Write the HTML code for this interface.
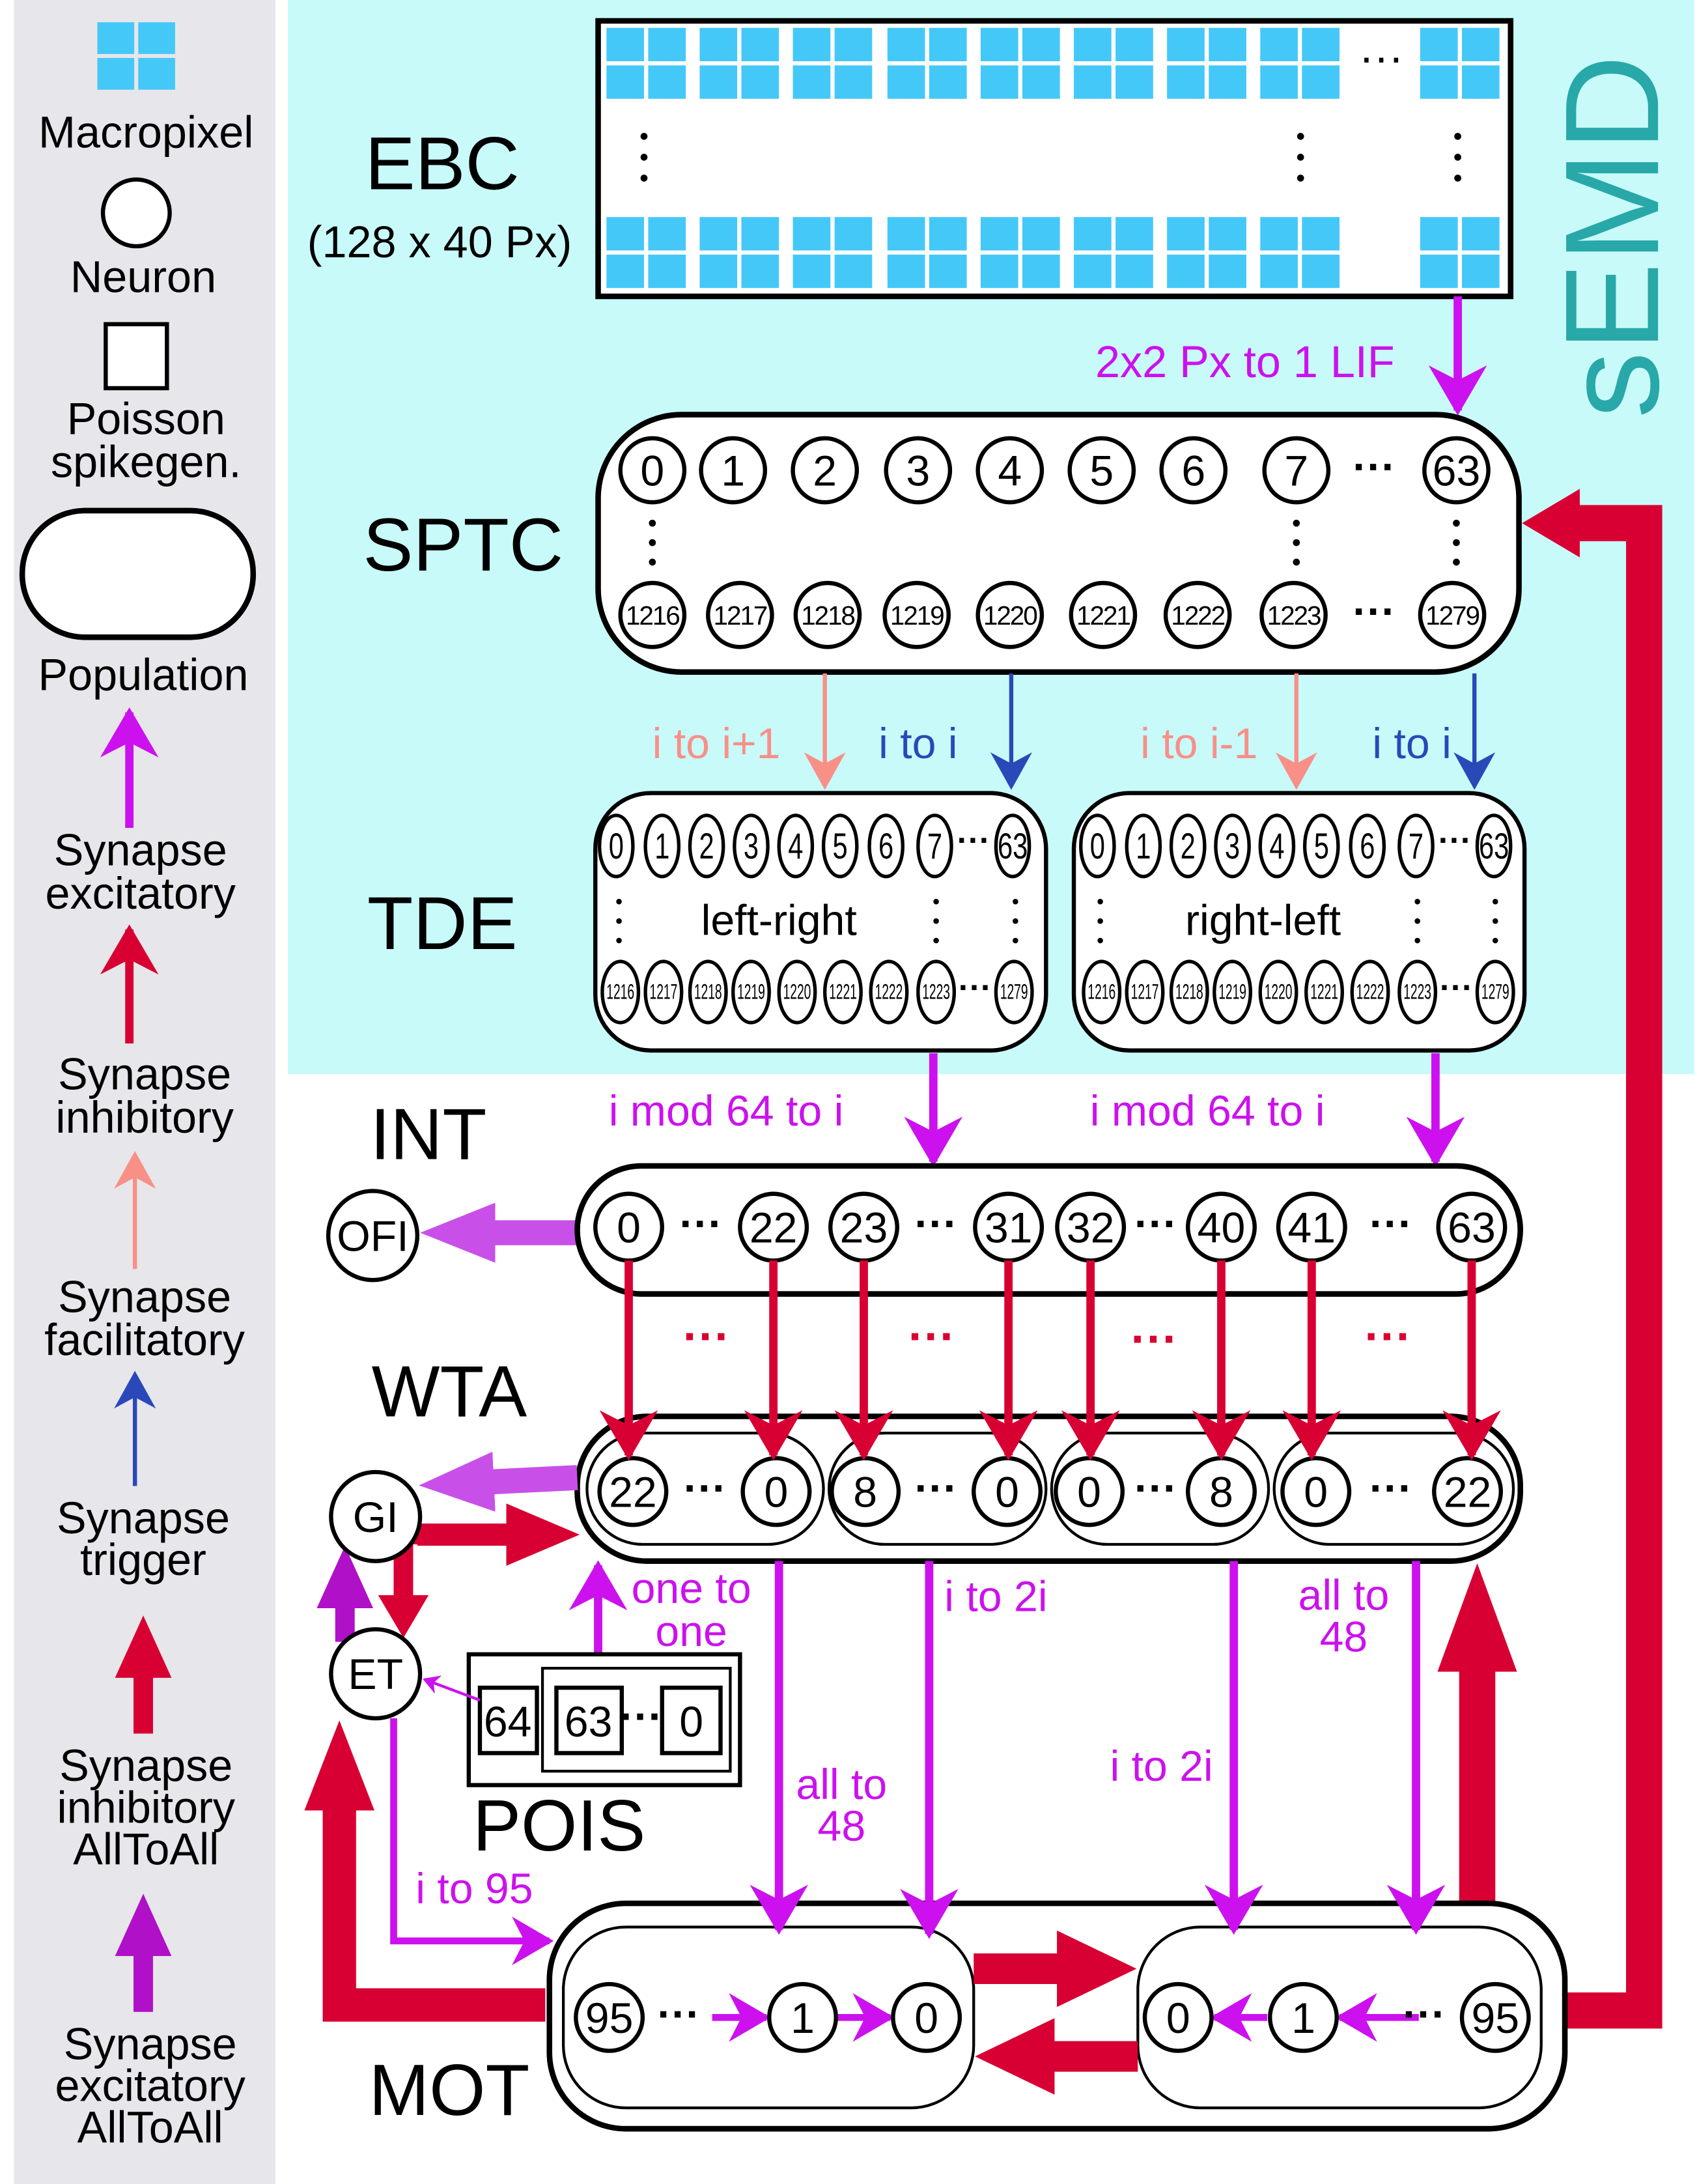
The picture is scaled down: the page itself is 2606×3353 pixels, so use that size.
<!DOCTYPE html>
<html><head><meta charset="utf-8"><style>
html,body{margin:0;padding:0;background:#fff}
svg{display:block}
text{font-family:"Liberation Sans",sans-serif;text-anchor:middle}
</style></head><body>
<svg width="2606" height="3353" viewBox="0 0 1220 1569.7" preserveAspectRatio="none" xmlns="http://www.w3.org/2000/svg">
<defs>
<marker id="mM" viewBox="0 0 10 10" preserveAspectRatio="none" refX="9" refY="5" markerWidth="6" markerHeight="7" orient="auto" markerUnits="strokeWidth"><path d="M0,0L10,5L0,10L3,5z" fill="#cc11ee"/></marker>
<marker id="mR" viewBox="0 0 10 10" preserveAspectRatio="none" refX="9" refY="5" markerWidth="6" markerHeight="7" orient="auto" markerUnits="strokeWidth"><path d="M0,0L10,5L0,10L3,5z" fill="#d80032"/></marker>
<marker id="mS" viewBox="0 0 10 10" preserveAspectRatio="none" refX="9" refY="5" markerWidth="9" markerHeight="10" orient="auto" markerUnits="strokeWidth"><path d="M0,0L10,5L0,10L3,5z" fill="#f89088"/></marker>
<marker id="mB" viewBox="0 0 10 10" preserveAspectRatio="none" refX="9" refY="5" markerWidth="9" markerHeight="10" orient="auto" markerUnits="strokeWidth"><path d="M0,0L10,5L0,10L3,5z" fill="#2a48b8"/></marker>
<marker id="mUp" viewBox="0 0 10 10" preserveAspectRatio="none" refX="0.2" refY="5" markerWidth="3" markerHeight="2.2" orient="auto" markerUnits="strokeWidth"><path d="M0,0L10,5L0,10z" fill="#d80032"/></marker>
<marker id="mRet" viewBox="0 0 10 10" preserveAspectRatio="none" refX="0.2" refY="5" markerWidth="1.6" markerHeight="1.9" orient="auto" markerUnits="strokeWidth"><path d="M0,0L10,5L0,10z" fill="#d80032"/></marker>
<marker id="mMOT" viewBox="0 0 10 10" preserveAspectRatio="none" refX="0.2" refY="5" markerWidth="2.6" markerHeight="2.5" orient="auto" markerUnits="strokeWidth"><path d="M0,0L10,5L0,10z" fill="#d80032"/></marker>
<marker id="mET" viewBox="0 0 10 10" preserveAspectRatio="none" refX="0.2" refY="5" markerWidth="2.7" markerHeight="2.1" orient="auto" markerUnits="strokeWidth"><path d="M0,0L10,5L0,10z" fill="#d80032"/></marker>
<marker id="mGI" viewBox="0 0 10 10" preserveAspectRatio="none" refX="0.2" refY="5" markerWidth="3.3" markerHeight="2.8" orient="auto" markerUnits="strokeWidth"><path d="M0,0L10,5L0,10z" fill="#d80032"/></marker>
<marker id="mGIET" viewBox="0 0 10 10" preserveAspectRatio="none" refX="0.2" refY="5" markerWidth="2.2" markerHeight="2.6" orient="auto" markerUnits="strokeWidth"><path d="M0,0L10,5L0,10z" fill="#d80032"/></marker>
<marker id="mLR" viewBox="0 0 10 10" preserveAspectRatio="none" refX="0.2" refY="5" markerWidth="3.2" markerHeight="2.9" orient="auto" markerUnits="strokeWidth"><path d="M0,0L10,5L0,10z" fill="#d80032"/></marker>
<marker id="mV" viewBox="0 0 10 10" preserveAspectRatio="none" refX="0.2" refY="5" markerWidth="3" markerHeight="2.4" orient="auto" markerUnits="strokeWidth"><path d="M0,0L10,5L0,10z" fill="#c850e8"/></marker>
<marker id="mP" viewBox="0 0 10 10" preserveAspectRatio="none" refX="0.2" refY="5" markerWidth="3.2" markerHeight="2.9" orient="auto" markerUnits="strokeWidth"><path d="M0,0L10,5L0,10z" fill="#b010c8"/></marker>
<g id="mp"><rect x="0" y="0" width="27" height="24" fill="#44c8f8"/><rect x="30" y="0" width="27" height="24" fill="#44c8f8"/><rect x="0" y="27" width="27" height="24" fill="#44c8f8"/><rect x="30" y="27" width="27" height="24" fill="#44c8f8"/></g>
</defs>

<rect x="10" y="0" width="188" height="1570" fill="#e7e6ea"/>
<rect x="207" y="0" width="1011" height="772" fill="#c8fafa"/>

<g transform="translate(70,16) scale(0.98,0.95)"><use href="#mp"/></g>
<text x="105" y="106" font-size="32">Macropixel</text>
<circle cx="98" cy="153" r="24" fill="#fff" stroke="#000" stroke-width="3"/>
<text x="103" y="210" font-size="32">Neuron</text>
<rect x="76" y="233" width="44" height="46" fill="#fff" stroke="#000" stroke-width="3"/>
<text x="105" y="312" font-size="32">Poisson</text>
<text x="105" y="343" font-size="32">spikegen.</text>
<rect x="16" y="367" width="166" height="91" rx="45" fill="#fff" stroke="#000" stroke-width="4"/>
<text x="103" y="496" font-size="32">Population</text>
<line x1="93" y1="595" x2="93" y2="512" stroke="#cc11ee" stroke-width="6" marker-end="url(#mM)"/>
<text x="101" y="622" font-size="32">Synapse</text><text x="101" y="653" font-size="32">excitatory</text>
<line x1="93" y1="750" x2="93" y2="668" stroke="#d80032" stroke-width="6" marker-end="url(#mR)"/>
<text x="104" y="783" font-size="32">Synapse</text><text x="104" y="814" font-size="32">inhibitory</text>
<line x1="97" y1="912" x2="97" y2="830" stroke="#f89088" stroke-width="3" marker-end="url(#mS)"/>
<text x="104" y="943" font-size="32">Synapse</text><text x="104" y="974" font-size="32">facilitatory</text>
<line x1="97" y1="1068" x2="97" y2="988" stroke="#2a48b8" stroke-width="3" marker-end="url(#mB)"/>
<text x="103" y="1102" font-size="32">Synapse</text><text x="103" y="1132" font-size="32">trigger</text>
<line x1="103" y1="1246" x2="103" y2="1205" stroke="#d80032" stroke-width="14" marker-end="url(#mLR)"/>
<text x="105" y="1280" font-size="32">Synapse</text><text x="105" y="1310" font-size="32">inhibitory</text><text x="105" y="1340" font-size="32">AllToAll</text>
<line x1="103" y1="1446" x2="103" y2="1405" stroke="#b010c8" stroke-width="14" marker-end="url(#mP)"/>
<text x="108" y="1480" font-size="32">Synapse</text><text x="108" y="1510" font-size="32">excitatory</text><text x="108" y="1540" font-size="32">AllToAll</text>

<!-- EBC -->
<text x="318" y="136" font-size="54">EBC</text>
<text x="316" y="185" font-size="32">(128 x 40 Px)</text>
<rect x="430" y="15" width="656" height="198" fill="#fff" stroke="#000" stroke-width="4"/>
<use href="#mp" x="436" y="20"/><use href="#mp" x="503" y="20"/><use href="#mp" x="570" y="20"/><use href="#mp" x="638" y="20"/><use href="#mp" x="705" y="20"/><use href="#mp" x="772" y="20"/><use href="#mp" x="839" y="20"/><use href="#mp" x="906" y="20"/><use href="#mp" x="1021" y="20"/>
<use href="#mp" x="436" y="156"/><use href="#mp" x="503" y="156"/><use href="#mp" x="570" y="156"/><use href="#mp" x="638" y="156"/><use href="#mp" x="705" y="156"/><use href="#mp" x="772" y="156"/><use href="#mp" x="839" y="156"/><use href="#mp" x="906" y="156"/><use href="#mp" x="1021" y="156"/>
<text x="993" y="52" font-size="32">···</text>
<g fill="#000"><circle cx="463" cy="98" r="2.5"/><circle cx="463" cy="113" r="2.5"/><circle cx="463" cy="128" r="2.5"/><circle cx="935" cy="98" r="2.5"/><circle cx="935" cy="113" r="2.5"/><circle cx="935" cy="128" r="2.5"/><circle cx="1048" cy="98" r="2.5"/><circle cx="1048" cy="113" r="2.5"/><circle cx="1048" cy="128" r="2.5"/></g>
<text transform="translate(1192,170) rotate(-90)" font-size="96" fill="#28a8a8">sEMD</text>
<line x1="1048" y1="213" x2="1048" y2="295" stroke="#cc11ee" stroke-width="6" marker-end="url(#mM)"/>
<text x="895" y="271" font-size="32" fill="#cc11ee">2x2 Px to 1 LIF</text>

<!-- SPTC -->
<text x="333" y="410" font-size="54">SPTC</text>
<rect x="430" y="298" width="662" height="185" rx="60" fill="#fff" stroke="#000" stroke-width="4"/>
<g fill="#fff" stroke="#000" stroke-width="3">
<circle cx="469" cy="338" r="23"/><circle cx="527" cy="338" r="23"/><circle cx="593" cy="338" r="23"/><circle cx="660" cy="338" r="23"/><circle cx="726" cy="338" r="23"/><circle cx="792" cy="338" r="23"/><circle cx="858" cy="338" r="23"/><circle cx="932" cy="338" r="23"/><circle cx="1047" cy="338" r="23"/>
<circle cx="469" cy="442" r="23"/><circle cx="532" cy="442" r="23"/><circle cx="595" cy="442" r="23"/><circle cx="659" cy="442" r="23"/><circle cx="726" cy="442" r="23"/><circle cx="793" cy="442" r="23"/><circle cx="861" cy="442" r="23"/><circle cx="930" cy="442" r="23"/><circle cx="1044" cy="442" r="23"/>
</g>
<g font-size="31"><text x="469" y="349">0</text><text x="527" y="349">1</text><text x="593" y="349">2</text><text x="660" y="349">3</text><text x="726" y="349">4</text><text x="792" y="349">5</text><text x="858" y="349">6</text><text x="932" y="349">7</text><text x="1047" y="349">63</text><text x="988" y="346" font-weight="bold">···</text></g>
<g font-size="19" letter-spacing="-1"><text x="469" y="449">1216</text><text x="532" y="449">1217</text><text x="595" y="449">1218</text><text x="659" y="449">1219</text><text x="726" y="449">1220</text><text x="793" y="449">1221</text><text x="861" y="449">1222</text><text x="930" y="449">1223</text><text x="1044" y="449">1279</text></g>
<text x="988" y="450" font-size="31" font-weight="bold">···</text>
<g fill="#000"><circle cx="469" cy="376" r="2.5"/><circle cx="469" cy="390" r="2.5"/><circle cx="469" cy="404" r="2.5"/><circle cx="932" cy="376" r="2.5"/><circle cx="932" cy="390" r="2.5"/><circle cx="932" cy="404" r="2.5"/><circle cx="1047" cy="376" r="2.5"/><circle cx="1047" cy="390" r="2.5"/><circle cx="1047" cy="404" r="2.5"/></g>

<line x1="593" y1="484" x2="593" y2="565" stroke="#f89088" stroke-width="3" marker-end="url(#mS)"/>
<line x1="727" y1="484" x2="727" y2="565" stroke="#2a48b8" stroke-width="3" marker-end="url(#mB)"/>
<line x1="932" y1="484" x2="932" y2="565" stroke="#f89088" stroke-width="3" marker-end="url(#mS)"/>
<line x1="1060" y1="484" x2="1060" y2="565" stroke="#2a48b8" stroke-width="3" marker-end="url(#mB)"/>
<text x="515" y="545" font-size="31" fill="#f89088">i to i+1</text>
<text x="660" y="545" font-size="31" fill="#2a48b8">i to i</text>
<text x="862" y="545" font-size="31" fill="#f89088">i to i-1</text>
<text x="1015" y="545" font-size="31" fill="#2a48b8">i to i</text>

<!-- TDE -->
<text x="318" y="682" font-size="54">TDE</text>
<rect x="428" y="570" width="324" height="185" rx="40" fill="#fff" stroke="#000" stroke-width="3"/>
<rect x="772" y="570" width="324" height="185" rx="40" fill="#fff" stroke="#000" stroke-width="3"/>
<g fill="none" stroke="#000" stroke-width="2.5">
<ellipse cx="443" cy="608" rx="12" ry="22"/><ellipse cx="476" cy="608" rx="12" ry="22"/><ellipse cx="508" cy="608" rx="12" ry="22"/><ellipse cx="540" cy="608" rx="12" ry="22"/><ellipse cx="572" cy="608" rx="12" ry="22"/><ellipse cx="604" cy="608" rx="12" ry="22"/><ellipse cx="637" cy="608" rx="12" ry="22"/><ellipse cx="672" cy="608" rx="12" ry="22"/><ellipse cx="728" cy="608" rx="12" ry="22"/>
<ellipse cx="446" cy="713" rx="13" ry="22"/><ellipse cx="477" cy="713" rx="13" ry="22"/><ellipse cx="509" cy="713" rx="13" ry="22"/><ellipse cx="540" cy="713" rx="13" ry="22"/><ellipse cx="573" cy="713" rx="13" ry="22"/><ellipse cx="606" cy="713" rx="13" ry="22"/><ellipse cx="639" cy="713" rx="13" ry="22"/><ellipse cx="673" cy="713" rx="13" ry="22"/><ellipse cx="729" cy="713" rx="13" ry="22"/>
<ellipse cx="789" cy="608" rx="12" ry="22"/><ellipse cx="822" cy="608" rx="12" ry="22"/><ellipse cx="854" cy="608" rx="12" ry="22"/><ellipse cx="886" cy="608" rx="12" ry="22"/><ellipse cx="918" cy="608" rx="12" ry="22"/><ellipse cx="950" cy="608" rx="12" ry="22"/><ellipse cx="983" cy="608" rx="12" ry="22"/><ellipse cx="1018" cy="608" rx="12" ry="22"/><ellipse cx="1074" cy="608" rx="12" ry="22"/>
<ellipse cx="792" cy="713" rx="13" ry="22"/><ellipse cx="823" cy="713" rx="13" ry="22"/><ellipse cx="855" cy="713" rx="13" ry="22"/><ellipse cx="886" cy="713" rx="13" ry="22"/><ellipse cx="919" cy="713" rx="13" ry="22"/><ellipse cx="952" cy="713" rx="13" ry="22"/><ellipse cx="985" cy="713" rx="13" ry="22"/><ellipse cx="1019" cy="713" rx="13" ry="22"/><ellipse cx="1075" cy="713" rx="13" ry="22"/>
</g>
<g font-size="26" transform="scale(0.75,1)">
<text x="590.7" y="617">0</text><text x="634.7" y="617">1</text><text x="677.3" y="617">2</text><text x="720" y="617">3</text><text x="762.7" y="617">4</text><text x="805.3" y="617">5</text><text x="849.3" y="617">6</text><text x="896" y="617">7</text><text x="970.7" y="617">63</text>
<text x="1052" y="617">0</text><text x="1096" y="617">1</text><text x="1138.7" y="617">2</text><text x="1181.3" y="617">3</text><text x="1224" y="617">4</text><text x="1266.7" y="617">5</text><text x="1310.7" y="617">6</text><text x="1357.3" y="617">7</text><text x="1432" y="617">63</text>
</g>
<g font-size="15" transform="scale(0.6,1)">
<text x="743.3" y="718">1216</text><text x="795" y="718">1217</text><text x="848.3" y="718">1218</text><text x="900" y="718">1219</text><text x="955" y="718">1220</text><text x="1010" y="718">1221</text><text x="1065" y="718">1222</text><text x="1121.7" y="718">1223</text><text x="1215" y="718">1279</text>
<text x="1320" y="718">1216</text><text x="1371.7" y="718">1217</text><text x="1425" y="718">1218</text><text x="1476.7" y="718">1219</text><text x="1531.7" y="718">1220</text><text x="1586.7" y="718">1221</text><text x="1641.7" y="718">1222</text><text x="1698.3" y="718">1223</text><text x="1791.7" y="718">1279</text>
</g>
<g font-size="24" font-weight="bold"><text x="700" y="612">···</text><text x="701" y="718">···</text><text x="1046" y="612">···</text><text x="1047" y="718">···</text></g>
<text x="560" y="672" font-size="31">left-right</text>
<text x="908" y="672" font-size="31">right-left</text>
<g fill="#000"><circle cx="445" cy="648" r="2"/><circle cx="445" cy="662" r="2"/><circle cx="445" cy="676" r="2"/><circle cx="673" cy="648" r="2"/><circle cx="673" cy="662" r="2"/><circle cx="673" cy="676" r="2"/><circle cx="730" cy="648" r="2"/><circle cx="730" cy="662" r="2"/><circle cx="730" cy="676" r="2"/>
<circle cx="791" cy="648" r="2"/><circle cx="791" cy="662" r="2"/><circle cx="791" cy="676" r="2"/><circle cx="1019" cy="648" r="2"/><circle cx="1019" cy="662" r="2"/><circle cx="1019" cy="676" r="2"/><circle cx="1075" cy="648" r="2"/><circle cx="1075" cy="662" r="2"/><circle cx="1075" cy="676" r="2"/></g>

<!-- INT -->
<text x="308" y="833" font-size="52">INT</text>
<line x1="671" y1="757" x2="671" y2="835" stroke="#cc11ee" stroke-width="6" marker-end="url(#mM)"/>
<line x1="1032" y1="757" x2="1032" y2="835" stroke="#cc11ee" stroke-width="6" marker-end="url(#mM)"/>
<text x="522" y="809" font-size="31" fill="#cc11ee">i mod 64 to i</text>
<text x="868" y="809" font-size="31" fill="#cc11ee">i mod 64 to i</text>
<line x1="415" y1="886" x2="355" y2="886" stroke="#c850e8" stroke-width="18" marker-end="url(#mV)"/>
<circle cx="268" cy="888" r="32" fill="#fff" stroke="#000" stroke-width="3"/>
<text x="268" y="899" font-size="31">OFI</text>
<rect x="415" y="838" width="678" height="92" rx="46" fill="#fff" stroke="#000" stroke-width="4"/>
<g fill="#fff" stroke="#000" stroke-width="3"><circle cx="452" cy="882" r="24"/><circle cx="556" cy="882" r="24"/><circle cx="621" cy="882" r="24"/><circle cx="725" cy="882" r="24"/><circle cx="784" cy="882" r="24"/><circle cx="878" cy="882" r="24"/><circle cx="943" cy="882" r="24"/><circle cx="1058" cy="882" r="24"/></g>
<g font-size="31"><text x="452" y="893">0</text><text x="556" y="893">22</text><text x="621" y="893">23</text><text x="725" y="893">31</text><text x="784" y="893">32</text><text x="878" y="893">40</text><text x="943" y="893">41</text><text x="1058" y="893">63</text>
<g font-weight="bold"><text x="504" y="890">···</text><text x="673" y="890">···</text><text x="831" y="890">···</text><text x="1000" y="890">···</text></g></g>

<g font-size="34" fill="#d80032" font-weight="bold"><text x="508" y="972">···</text><text x="670" y="972">···</text><text x="830" y="974">···</text><text x="998" y="972">···</text></g>

<!-- WTA -->
<text x="323" y="1018" font-size="52">WTA</text>
<rect x="415" y="1018" width="678" height="104" rx="50" fill="#fff" stroke="#000" stroke-width="4"/>
<g fill="#fff" stroke="#000" stroke-width="2"><rect x="422" y="1030" width="170" height="80" rx="40"/><rect x="596" y="1030" width="156" height="80" rx="40"/><rect x="756" y="1030" width="156" height="80" rx="40"/><rect x="916" y="1030" width="172" height="80" rx="40"/></g>
<g fill="#fff" stroke="#000" stroke-width="3"><circle cx="455" cy="1072" r="24"/><circle cx="558" cy="1072" r="24"/><circle cx="622" cy="1072" r="24"/><circle cx="724" cy="1072" r="24"/><circle cx="783" cy="1072" r="24"/><circle cx="878" cy="1072" r="24"/><circle cx="946" cy="1072" r="24"/><circle cx="1055" cy="1072" r="24"/></g>
<g font-size="31"><text x="455" y="1083">22</text><text x="558" y="1083">0</text><text x="622" y="1083">8</text><text x="724" y="1083">0</text><text x="783" y="1083">0</text><text x="878" y="1083">8</text><text x="946" y="1083">0</text><text x="1055" y="1083">22</text>
<g font-weight="bold"><text x="507" y="1080">···</text><text x="673" y="1080">···</text><text x="831" y="1080">···</text><text x="1000" y="1080">···</text></g></g>

<!-- red INT->WTA -->
<g stroke="#d80032" stroke-width="6">
<line x1="452" y1="906" x2="452" y2="1046" marker-end="url(#mR)"/><line x1="556" y1="906" x2="556" y2="1046" marker-end="url(#mR)"/><line x1="621" y1="906" x2="621" y2="1046" marker-end="url(#mR)"/><line x1="725" y1="906" x2="725" y2="1046" marker-end="url(#mR)"/><line x1="784" y1="906" x2="784" y2="1046" marker-end="url(#mR)"/><line x1="878" y1="906" x2="878" y2="1046" marker-end="url(#mR)"/><line x1="943" y1="906" x2="943" y2="1046" marker-end="url(#mR)"/><line x1="1058" y1="906" x2="1058" y2="1046" marker-end="url(#mR)"/>
</g>

<!-- GI / ET -->
<line x1="415" y1="1062" x2="354" y2="1065" stroke="#c850e8" stroke-width="18" marker-end="url(#mV)"/>
<line x1="300" y1="1103" x2="365" y2="1103" stroke="#d80032" stroke-width="16" marker-end="url(#mGI)"/>
<polyline points="302,1103 290,1103 290,1147" fill="none" stroke="#d80032" stroke-width="14" marker-end="url(#mGIET)"/>
<line x1="248" y1="1180" x2="248" y2="1155" stroke="#b010c8" stroke-width="14" marker-end="url(#mP)"/>
<circle cx="270" cy="1090" r="32" fill="#fff" stroke="#000" stroke-width="3"/>
<text x="270" y="1101" font-size="31">GI</text>
<circle cx="270" cy="1203" r="32" fill="#fff" stroke="#000" stroke-width="3"/>
<text x="270" y="1214" font-size="31">ET</text>

<!-- POIS -->
<line x1="430" y1="1196" x2="430" y2="1125" stroke="#cc11ee" stroke-width="6" marker-end="url(#mM)"/>
<text x="497" y="1152" font-size="31" fill="#cc11ee">one to</text><text x="497" y="1183" font-size="31" fill="#cc11ee">one</text>
<rect x="337" y="1189" width="195" height="94" fill="#fff" stroke="#000" stroke-width="3"/>
<rect x="390" y="1199" width="135" height="74" fill="#fff" stroke="#000" stroke-width="2"/>
<g fill="#fff" stroke="#000" stroke-width="3"><rect x="345" y="1213" width="41" height="47"/><rect x="400" y="1213" width="47" height="47"/><rect x="476" y="1213" width="42" height="47"/></g>
<g font-size="31"><text x="365" y="1248">64</text><text x="423" y="1248">63</text><text x="497" y="1248">0</text><text x="461" y="1244" font-weight="bold">···</text></g>
<text x="402" y="1330" font-size="52">POIS</text>
<line x1="345" y1="1222" x2="305" y2="1207" stroke="#cc11ee" stroke-width="2" marker-end="url(#mM)"/>

<g font-size="31" fill="#cc11ee"><text x="605" y="1293">all to</text><text x="605" y="1323">48</text><text x="716" y="1158">i to 2i</text><text x="835" y="1280">i to 2i</text><text x="966" y="1157">all to</text><text x="966" y="1187">48</text><text x="341" y="1368">i to 95</text></g>
<polyline points="283,1235 283,1395 395,1395" fill="none" stroke="#cc11ee" stroke-width="5" marker-end="url(#mM)"/>

<!-- big red feedback -->
<polyline points="392,1441 244,1441 244,1300" fill="none" stroke="#d80032" stroke-width="24" marker-end="url(#mET)"/>
<line x1="1062" y1="1368" x2="1062" y2="1200" stroke="#d80032" stroke-width="26" marker-end="url(#mUp)"/>
<polyline points="1125,1445 1182,1445 1182,376 1135,376" fill="none" stroke="#d80032" stroke-width="26" marker-end="url(#mRet)"/>

<!-- MOT -->
<text x="323" y="1520" font-size="52">MOT</text>
<rect x="395" y="1368" width="730" height="162" rx="55" fill="#fff" stroke="#000" stroke-width="4"/>
<rect x="405" y="1385" width="295" height="130" rx="45" fill="#fff" stroke="#000" stroke-width="2"/>
<rect x="818" y="1385" width="290" height="130" rx="45" fill="#fff" stroke="#000" stroke-width="2"/>
<line x1="700" y1="1415" x2="761" y2="1415" stroke="#d80032" stroke-width="22" marker-end="url(#mMOT)"/>
<line x1="818" y1="1478" x2="757" y2="1478" stroke="#d80032" stroke-width="22" marker-end="url(#mMOT)"/>

<g stroke="#cc11ee" stroke-width="6">
<line x1="560" y1="1122" x2="560" y2="1387" marker-end="url(#mM)"/>
<line x1="668" y1="1122" x2="668" y2="1390" marker-end="url(#mM)"/>
<line x1="887" y1="1122" x2="887" y2="1387" marker-end="url(#mM)"/>
<line x1="1018" y1="1122" x2="1018" y2="1387" marker-end="url(#mM)"/>
</g>

<g stroke="#cc11ee" stroke-width="5"><line x1="512" y1="1450" x2="551" y2="1450" marker-end="url(#mM)"/><line x1="602" y1="1450" x2="640" y2="1450" marker-end="url(#mM)"/><line x1="911" y1="1450" x2="873" y2="1450" marker-end="url(#mM)"/><line x1="1020" y1="1450" x2="963" y2="1450" marker-end="url(#mM)"/></g>
<g fill="#fff" stroke="#000" stroke-width="3"><circle cx="438" cy="1450" r="24"/><circle cx="577" cy="1450" r="24"/><circle cx="666" cy="1450" r="24"/><circle cx="847" cy="1450" r="24"/><circle cx="937" cy="1450" r="24"/><circle cx="1075" cy="1450" r="24"/></g>
<g font-size="31"><text x="438" y="1461">95</text><text x="577" y="1461">1</text><text x="666" y="1461">0</text><text x="847" y="1461">0</text><text x="937" y="1461">1</text><text x="1075" y="1461">95</text><g font-weight="bold"><text x="488" y="1458">···</text><text x="1024" y="1458">···</text></g></g>
</svg>
</body></html>
